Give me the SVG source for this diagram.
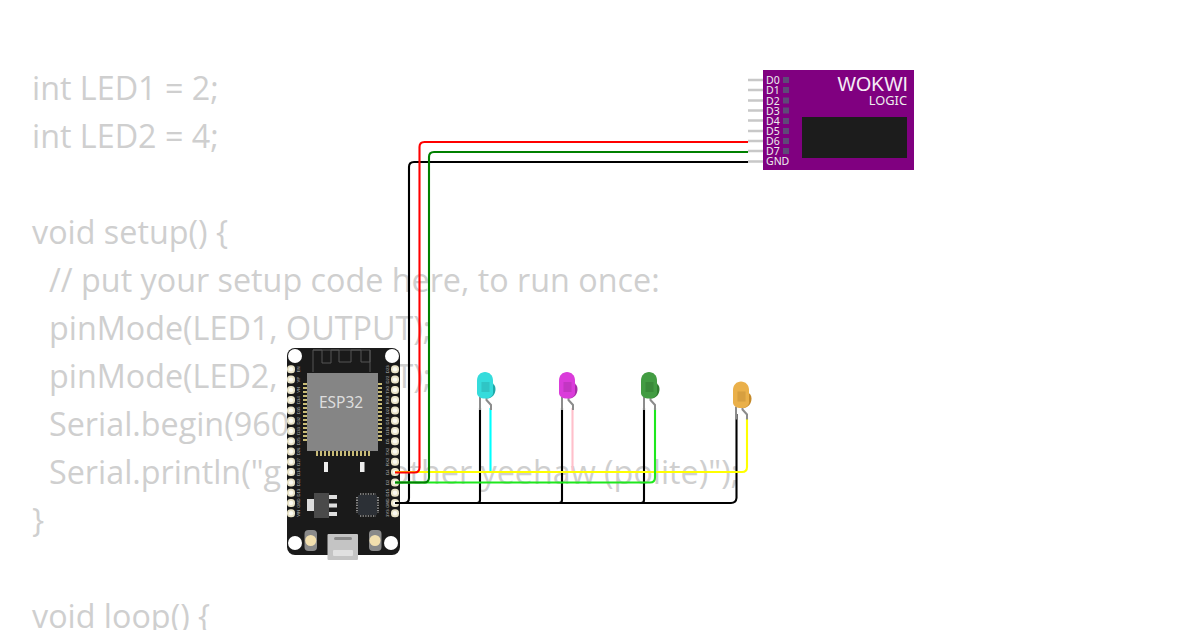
<svg xmlns="http://www.w3.org/2000/svg" width="1200" height="630" viewBox="0 0 1200 630">
<style>
.code{font-family:"Open Sans","Noto Sans",sans-serif;font-size:32.300px;fill:#cfcfcf}
.wire{fill:none;stroke-width:2.100;stroke-linejoin:round}
.lbl{font-family:"Noto Sans","Liberation Sans",sans-serif;font-size:10.500px;fill:#eee}
.pl{font-family:"Liberation Sans",sans-serif;font-size:4.200px;fill:#bbb;text-anchor:middle}
.stub{stroke:#c8c8c8;stroke-width:2.600}
.sq{fill:#5f4a78}
.leg{fill:none;stroke:#8c8c8c;stroke-width:2}
.gold{fill:#c9bc78}
</style>
<defs>
<g id="pin"><rect x="-4" y="-4" width="8" height="8" rx="3.500" fill="#e9e3c8"/><circle r="2.200" fill="#fbfaf2"/></g>
<path id="dome" d="M0.500 21V8.500C0.500 3.500 4 0 8.500 0S16.500 3.500 16.500 8.500V21C16.500 24.500 13 26.500 8.500 26.500S0.500 24.500 0.500 21Z"/>
<path id="flange" d="M14 10.500C17.500 11.500 19 14 19 17C19 22 16 26 11 26.500L10 18Z"/>
<g id="legs"><path class="leg" d="M3.500 25V38"/><path class="leg" d="M10 25V28L14.500 33V38"/></g>
</defs>

<g id="code">
<text class="code" x="32" y="100">int LED1 = 2;</text>
<text class="code" x="32" y="148">int LED2 = 4;</text>
<text class="code" x="32" y="244">void setup() {</text>
<text class="code" x="49" y="292">// put your setup code here, to run once:</text>
<text class="code" x="49" y="340">pinMode(LED1, OUTPUT);</text>
<text class="code" x="49" y="388">pinMode(LED2, OUTPUT);</text>
<text class="code" x="49" y="436">Serial.begin(9600);</text>
<text class="code" x="49" y="484">Serial.println("g</text>
<text class="code" x="390" y="484">other yeehaw (polite)");</text>
<text class="code" x="32" y="532">}</text>
<text class="code" x="32" y="628">void loop() {</text>
</g>

<g id="logic">
<rect x="763" y="70" width="151" height="100" fill="#800080"/>
<path class="stub" d="M748 80H763M748 90H763M748 100.500H763M748 110.500H763M748 120.500H763M748 131H763M748 141H763M748 151H763M748 161.500H763"/>
<text class="lbl" x="766" y="84">D0</text><text class="lbl" x="766" y="94">D1</text><text class="lbl" x="766" y="104.500">D2</text><text class="lbl" x="766" y="114.500">D3</text><text class="lbl" x="766" y="124.500">D4</text><text class="lbl" x="766" y="135">D5</text><text class="lbl" x="766" y="145">D6</text><text class="lbl" x="766" y="155">D7</text><text class="lbl" x="766" y="165">GND</text>
<rect class="sq" x="783" y="77" width="6" height="6"/><rect class="sq" x="783" y="87" width="6" height="6"/><rect class="sq" x="783" y="97.500" width="6" height="6"/><rect class="sq" x="783" y="107.500" width="6" height="6"/><rect class="sq" x="783" y="118" width="6" height="6"/><rect class="sq" x="783" y="128" width="6" height="6"/><rect class="sq" x="783" y="138" width="6" height="6"/><rect class="sq" x="783" y="148" width="6" height="6"/>
<text x="908" y="91" text-anchor="end" font-family="'Liberation Sans',sans-serif" font-size="19.500" fill="#f6ecf6">WOKWI</text>
<text x="907" y="105" text-anchor="end" font-family="'Noto Sans',sans-serif" font-size="12.800" fill="#eee">LOGIC</text>
<rect x="802" y="117" width="105" height="41" fill="#1c1c1c"/>
</g>

<g id="esp32">
<rect x="287" y="348" width="113" height="207" rx="8" fill="#1a1a1a"/>
<circle cx="295" cy="356" r="7" fill="#fff"/><circle cx="392" cy="356" r="7" fill="#fff"/><circle cx="295" cy="543" r="7" fill="#fff"/><circle cx="391" cy="543" r="7" fill="#fff"/>
<path d="M313 372V350H322V363H331V350H339V362H351V350H361V362H370V350M313 350H370V372" fill="none" stroke="#555" stroke-width="1"/>
<g class="gold">
<rect x="303" y="383" width="4" height="2"/><rect x="303" y="387" width="4" height="2"/><rect x="303" y="391" width="4" height="2"/><rect x="303" y="395" width="4" height="2"/><rect x="303" y="399" width="4" height="2"/><rect x="303" y="403" width="4" height="2"/><rect x="303" y="407" width="4" height="2"/><rect x="303" y="411" width="4" height="2"/><rect x="303" y="415" width="4" height="2"/><rect x="303" y="419" width="4" height="2"/><rect x="303" y="423" width="4" height="2"/><rect x="303" y="427" width="4" height="2"/><rect x="303" y="431" width="4" height="2"/><rect x="303" y="435" width="4" height="2"/><rect x="303" y="439" width="4" height="2"/>
<rect x="378" y="383" width="4" height="2"/><rect x="378" y="387" width="4" height="2"/><rect x="378" y="391" width="4" height="2"/><rect x="378" y="395" width="4" height="2"/><rect x="378" y="399" width="4" height="2"/><rect x="378" y="403" width="4" height="2"/><rect x="378" y="407" width="4" height="2"/><rect x="378" y="411" width="4" height="2"/><rect x="378" y="415" width="4" height="2"/><rect x="378" y="419" width="4" height="2"/><rect x="378" y="423" width="4" height="2"/><rect x="378" y="427" width="4" height="2"/><rect x="378" y="431" width="4" height="2"/><rect x="378" y="435" width="4" height="2"/><rect x="378" y="439" width="4" height="2"/>
<rect x="316" y="451" width="2" height="5"/><rect x="320" y="451" width="2" height="5"/><rect x="324" y="451" width="2" height="5"/><rect x="328" y="451" width="2" height="5"/><rect x="332" y="451" width="2" height="5"/><rect x="336" y="451" width="2" height="5"/><rect x="340" y="451" width="2" height="5"/><rect x="344" y="451" width="2" height="5"/><rect x="348" y="451" width="2" height="5"/><rect x="352" y="451" width="2" height="5"/><rect x="356" y="451" width="2" height="5"/><rect x="360" y="451" width="2" height="5"/><rect x="364" y="451" width="2" height="5"/><rect x="368" y="451" width="2" height="5"/>
</g>
<rect x="307" y="373" width="71" height="78" fill="#858585"/>
<text x="341" y="408" text-anchor="middle" font-family="'Noto Sans',sans-serif" font-size="15.500" fill="#ddd">ESP32</text>
<use href="#pin" x="291" y="369.300"/><use href="#pin" x="291" y="379.600"/><use href="#pin" x="291" y="389.900"/><use href="#pin" x="291" y="400.100"/><use href="#pin" x="291" y="410.400"/><use href="#pin" x="291" y="420.700"/><use href="#pin" x="291" y="431"/><use href="#pin" x="291" y="441.300"/><use href="#pin" x="291" y="451.500"/><use href="#pin" x="291" y="461.800"/><use href="#pin" x="291" y="472.100"/><use href="#pin" x="291" y="482.400"/><use href="#pin" x="291" y="492.700"/><use href="#pin" x="291" y="503"/><use href="#pin" x="291" y="513.200"/>
<use href="#pin" x="395" y="369.300"/><use href="#pin" x="395" y="379.600"/><use href="#pin" x="395" y="389.900"/><use href="#pin" x="395" y="400.100"/><use href="#pin" x="395" y="410.400"/><use href="#pin" x="395" y="420.700"/><use href="#pin" x="395" y="431"/><use href="#pin" x="395" y="441.300"/><use href="#pin" x="395" y="451.500"/><use href="#pin" x="395" y="461.800"/><use href="#pin" x="395" y="472.100"/><use href="#pin" x="395" y="482.400"/><use href="#pin" x="395" y="492.700"/><use href="#pin" x="395" y="503"/><use href="#pin" x="395" y="513.200"/>
<g class="pl">
<text transform="translate(300 369.300) rotate(-90)">EN</text><text transform="translate(300 379.600) rotate(-90)">VP</text><text transform="translate(300 389.900) rotate(-90)">VN</text><text transform="translate(300 400.100) rotate(-90)">D34</text><text transform="translate(300 410.400) rotate(-90)">D35</text><text transform="translate(300 420.700) rotate(-90)">D32</text><text transform="translate(300 431) rotate(-90)">D33</text><text transform="translate(300 441.300) rotate(-90)">D25</text><text transform="translate(300 451.500) rotate(-90)">D26</text><text transform="translate(300 461.800) rotate(-90)">D27</text><text transform="translate(300 472.100) rotate(-90)">D14</text><text transform="translate(300 482.400) rotate(-90)">D12</text><text transform="translate(300 492.700) rotate(-90)">D13</text><text transform="translate(300 503) rotate(-90)">GND</text><text transform="translate(300 513.200) rotate(-90)">VIN</text>
<text transform="translate(389 369.300) rotate(-90)">D23</text><text transform="translate(389 379.600) rotate(-90)">D22</text><text transform="translate(389 389.900) rotate(-90)">TX0</text><text transform="translate(389 400.100) rotate(-90)">RX0</text><text transform="translate(389 410.400) rotate(-90)">D21</text><text transform="translate(389 420.700) rotate(-90)">D19</text><text transform="translate(389 431) rotate(-90)">D18</text><text transform="translate(389 441.300) rotate(-90)">D5</text><text transform="translate(389 451.500) rotate(-90)">TX2</text><text transform="translate(389 461.800) rotate(-90)">RX2</text><text transform="translate(389 472.100) rotate(-90)">D4</text><text transform="translate(389 482.400) rotate(-90)">D2</text><text transform="translate(389 492.700) rotate(-90)">D15</text><text transform="translate(389 503) rotate(-90)">GND</text><text transform="translate(389 513.200) rotate(-90)">3V3</text>
</g>
<rect x="324" y="462" width="4" height="10" fill="#eee"/><rect x="360" y="462" width="4.500" height="10" fill="#eee"/>
<rect x="307" y="499" width="8" height="12" fill="#ddd"/><rect x="314" y="493" width="15" height="25" fill="#4a4a4a"/>
<rect x="329" y="495" width="8" height="4" fill="#ddd"/><rect x="329" y="503.500" width="8" height="4" fill="#ddd"/><rect x="329" y="512" width="8" height="4" fill="#ddd"/>
<rect x="358" y="495" width="19" height="20" rx="1" fill="#2c3036"/>
<path d="M360 494H376M360 516H376M357 497V513M378 497V513" stroke="#ddd" stroke-width="1.200" stroke-dasharray="1.300 1.300" fill="none"/>
<rect x="304.500" y="530" width="12.500" height="21" rx="4" fill="#8a8a8a"/><circle cx="310.700" cy="540.500" r="5.500" fill="#f2dfae"/>
<rect x="369" y="530" width="12.500" height="21" rx="4" fill="#8a8a8a"/><circle cx="375" cy="540.500" r="5.500" fill="#f2dfae"/>
<rect x="327.500" y="534" width="30.500" height="26" rx="1" fill="#c4c4c4"/><rect x="334" y="537" width="18" height="3" rx="1.500" fill="#8a8a8a"/><rect x="333" y="550" width="20" height="6" rx="1" fill="#e0e0e0"/>
</g>

<g id="connectors">
<path class="wire" stroke="#000" d="M395 503H731Q736 503 736.500 498V414"/>
<path class="wire" stroke="#000" d="M395 503H477Q480 503 480 500V408"/>
<path class="wire" stroke="#000" d="M480 503H559Q562 503 562 500V408"/>
<path class="wire" stroke="#000" d="M562 503H641Q644 503 644 500V408"/>
<path class="wire" stroke="#000" d="M395 503H404Q409 503 409 498V167Q409 162 414 162H748"/>
<path class="wire" stroke="#0ff" d="M490.500 472V408"/>
<path class="wire" stroke="#ffc0cb" d="M572.500 472V408"/>
<path class="wire" stroke="#ff0" d="M395 472H742Q747 472 747 467V418"/>
<path class="wire" stroke="#1ee81e" d="M395 482.500H650Q655 482.500 655 477.500V408"/>
<path class="wire" stroke="#f00" d="M395 472.500H414.500Q419.500 472.500 419.500 467.500V147Q419.500 142 424.500 142H748"/>
<path class="wire" stroke="#008000" d="M395 482.500H424Q429 482.500 429 477.500V157Q429 152 434 152H748"/>
</g>

<g id="led1" transform="translate(476.500 372)"><use href="#legs"/><use href="#flange" fill="#1fa8a8"/><use href="#dome" fill="#35dcdc"/><rect x="5" y="10" width="8" height="10" fill="#2bb6b6" fill-opacity=".6"/></g>
<g id="led2" transform="translate(558.500 372)"><use href="#legs"/><use href="#flange" fill="#a82ca8"/><use href="#dome" fill="#da3cda"/><rect x="5" y="10" width="8" height="10" fill="#b432b4" fill-opacity=".6"/></g>
<g id="led3" transform="translate(640.500 372)"><use href="#legs"/><use href="#flange" fill="#2f7d2f"/><use href="#dome" fill="#429c42"/><rect x="5" y="10" width="8" height="10" fill="#347f34" fill-opacity=".6"/></g>
<g id="led4" transform="translate(732.500 381.500)"><use href="#legs"/><use href="#flange" fill="#c58a2a"/><use href="#dome" fill="#eab04a"/><rect x="5" y="10" width="8" height="10" fill="#c9943a" fill-opacity=".6"/></g>
</svg>
